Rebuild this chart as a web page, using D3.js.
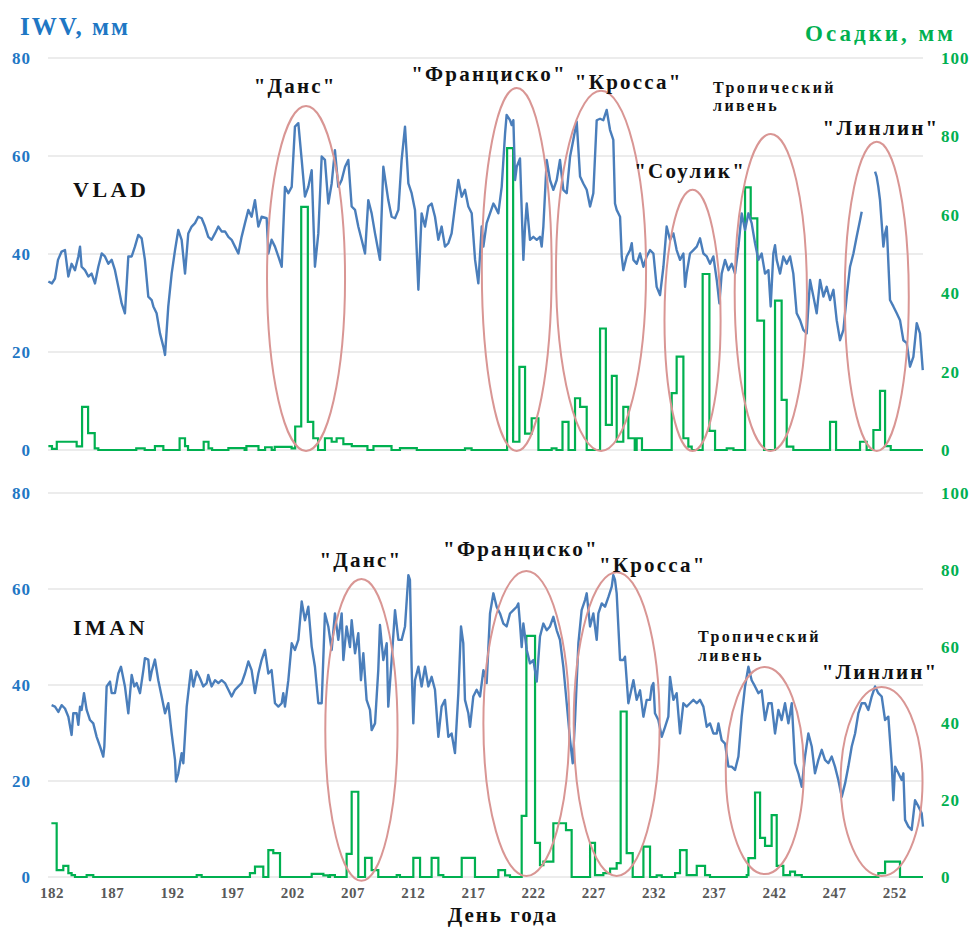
<!DOCTYPE html>
<html>
<head>
<meta charset="utf-8">
<script src="https://cdn.jsdelivr.net/npm/d3@7"></script>
<style>
body { margin: 0; background: white; }
</style>
</head>
<body>
<div id="plot"></div>
<script>
// day of year ticks (bottom axis only)
var dayTicks = [182, 187, 192, 197, 202, 207, 212, 217, 222, 227, 232, 237, 242, 247, 252];
var iwvTicks = [0, 20, 40, 60, 80];
var rainTicks = [0, 20, 40, 60, 80, 100];

// VLAD: IWV, mm  [day, value]  (null = no data)
var vladIwv = [[181.7,34.4],[182.0,34],[182.25,35],[182.5,38.8],[182.8,40.5],[183.08,40.8],[183.36,35.4],[183.63,38],[183.91,36.7],[184.19,39.5],[184.33,41.5],[184.46,37.4],[184.74,36.7],[185.02,35.4],[185.29,36],[185.57,34],[185.85,37.4],[186.13,40.1],[186.4,39.5],[186.68,38],[186.96,38.8],[187.23,36.7],[187.51,33.3],[187.79,29.9],[188.06,27.9],[188.34,39.5],[188.62,39.5],[188.89,41.5],[189.17,43.9],[189.45,43.2],[189.72,38.8],[190.0,31.3],[190.28,30.6],[190.42,29.3],[190.69,27.9],[190.97,23.8],[191.25,21.1],[191.39,19.4],[191.66,29.3],[191.94,36],[192.22,40.8],[192.49,44.9],[192.77,42.9],[193.05,36],[193.32,44.2],[193.6,45.6],[193.88,46.3],[194.15,47.6],[194.43,47.3],[194.71,45.6],[194.98,43.5],[195.26,42.9],[195.54,44.2],[195.82,45.6],[196.09,44.6],[196.37,44.6],[196.65,43.5],[196.92,42.9],[197.2,41.5],[197.48,40.1],[197.75,43.5],[198.03,46.3],[198.31,49],[198.58,47.6],[198.86,51],[199.14,45.6],[199.41,47.6],[199.83,47.3],[199.97,40.1],[200.24,42.9],[200.52,41.5],[200.8,39.5],[201.08,37.4],[201.35,53.7],[201.63,52.4],[201.91,53.7],[202.18,66],[202.46,66.7],[202.74,59.2],[203.01,51.7],[203.29,53.7],[203.57,57.1],[203.84,37.4],[204.12,44.2],[204.4,59.9],[204.67,59.2],[204.95,50.3],[205.23,54.4],[205.5,61.2],[205.78,53.7],[206.06,55.1],[206.34,57.8],[206.61,59.2],[206.89,49.7],[207.17,49],[207.44,45.6],[207.72,42.9],[208.0,40.1],[208.27,51],[208.55,48.3],[208.83,44.2],[209.24,38.8],[209.52,57.8],[209.93,51],[210.21,47.6],[210.49,47.3],[210.77,49],[211.04,59.2],[211.32,66],[211.6,54.4],[211.87,52.4],[212.15,49],[212.43,32.7],[212.7,48.3],[212.98,45.6],[213.26,49.7],[213.53,50.3],[213.81,47.6],[214.09,42.9],[214.36,45.6],[214.64,41.5],[214.92,42.2],[215.19,44.2],[215.47,49.7],[215.75,55.1],[216.03,51.7],[216.3,53.1],[216.58,49.7],[216.86,48.3],[217.14,38.8],[217.41,34],[217.69,45.6],[217.83,41.5],[218.1,46.3],[218.38,48.3],[218.66,50.3],[218.8,49.7],[219.07,48.3],[219.35,53.7],[219.63,64.6],[219.76,68.4],[220.04,67.3],[220.18,66.3],[220.32,67.3],[220.46,55.1],[220.6,57.8],[220.87,59.5],[221.15,38.8],[221.29,45.6],[221.43,50.3],[221.7,42.9],[221.98,43.5],[222.26,42.9],[222.53,43.5],[222.67,41.5],[222.81,45.6],[223.09,59.2],[223.36,55.1],[223.64,53.1],[223.92,55.1],[224.19,59.2],[224.47,53.1],[224.75,52.4],[225.03,59.9],[225.3,63.3],[225.58,67],[225.86,55.8],[226.13,54.4],[226.41,53.1],[226.69,49.7],[226.96,52.4],[227.24,67.3],[227.52,67.6],[227.79,67.3],[228.07,69.4],[228.35,65.3],[228.62,63.3],[228.76,50.3],[228.9,49],[229.18,47.6],[229.32,39.5],[229.45,36.7],[229.73,39.5],[230.01,40.8],[230.15,42.2],[230.29,38.8],[230.56,38],[230.84,40.1],[231.12,37.4],[231.39,39.5],[231.67,40.8],[231.95,40.1],[232.22,33.3],[232.5,31.6],[232.78,37.4],[233.05,45.6],[233.33,42.9],[233.61,44.2],[233.88,40.8],[234.16,38.8],[234.44,40.1],[234.58,33.3],[234.71,36],[234.99,40.1],[235.27,40.8],[235.55,41.5],[235.82,43.2],[236.1,40.1],[236.38,39.5],[236.65,38],[236.93,39.5],[237.21,34.7],[237.43,29.9],[237.62,36],[237.9,38.8],[238.18,36.7],[238.45,38],[238.73,36],[239.01,41.5],[239.28,48.3],[239.56,44.9],[239.84,48.3],[240.11,46.3],[240.39,42.2],[240.67,38.8],[240.94,40.1],[241.22,36],[241.5,36.7],[241.69,29.3],[241.91,40.1],[242.05,41.8],[242.19,38.8],[242.47,36],[242.74,39.5],[243.02,38],[243.3,39.5],[243.57,36],[243.85,27.9],[244.13,26.5],[244.4,24.5],[244.68,23.8],[244.96,34.7],[245.24,31.3],[245.51,27.9],[245.79,34.7],[246.07,31.3],[246.34,33.3],[246.62,30.6],[246.9,32.7],[247.17,26.5],[247.45,22.4],[247.73,24.5],[248.0,31.3],[248.28,37.4],[248.56,40.1],[248.83,43.5],[249.11,46.9],[249.25,48.6],[249.8,null],[250.36,56.8],[250.49,55.8],[250.63,53.7],[250.77,51],[251.05,41.5],[251.19,44.2],[251.33,45.6],[251.6,30.6],[251.88,29.3],[252.16,27.9],[252.43,26.5],[252.71,22.4],[252.99,21.8],[253.26,17],[253.54,19],[253.82,25.9],[254.09,23.8],[254.32,16.3]];

// VLAD: precipitation, mm  [day the step starts, value]
var vladRain = [[181.7,1.0],[182.0,0.3],[182.4,2.1],[184.05,0.9],[184.5,11],[185.0,4.3],[185.55,0.4],[185.85,0],[189.0,0.4],[189.7,0],[190.55,1.0],[191.25,0],[192.6,3.0],[193.05,1.0],[193.3,0],[194.6,2.1],[195.0,0.4],[195.3,0],[196.65,0.5],[198.0,0],[198.15,1.0],[199.15,0],[199.7,0.7],[200.25,0],[200.5,0.8],[201.9,0.4],[202.2,6.0],[202.7,62],[203.25,7.2],[203.7,3.0],[204.1,0],[204.67,3.0],[205.23,2.1],[205.64,3.0],[206.2,1.5],[206.9,1.0],[208.2,0],[208.7,1.0],[210.2,0],[210.9,0.5],[212.3,0],[216.3,0.4],[216.85,0],[219.8,77],[220.3,2.1],[220.82,21.2],[221.29,4.2],[221.84,8.1],[222.4,0],[223.5,0.4],[223.9,0],[224.4,7.2],[224.9,0],[225.44,13.2],[225.86,11],[226.41,0],[227.52,31],[228.0,6.4],[228.5,18.9],[228.9,2.1],[229.45,11],[229.87,3],[230.4,0],[230.56,3.0],[231.0,0],[233.47,14.5],[233.88,23.8],[234.44,3],[234.85,0.85],[235.13,0],[236.04,44.9],[236.6,4.9],[237.07,0],[238.04,0.4],[238.6,0],[239.56,67],[240.03,59.1],[240.58,33],[241.14,0],[242.05,38.1],[242.6,12.8],[243.02,0.85],[243.57,0],[246.62,7.2],[247.12,0],[249.11,2.1],[249.66,0],[250.22,5.1],[250.77,15.1],[251.19,1.0],[251.66,0],[254.34,0]];

// IMAN: IWV, mm
var imanIwv = [[181.97,35.8],[182.25,35.5],[182.53,34.4],[182.8,35.8],[183.08,35.1],[183.36,33.4],[183.63,29.6],[183.77,34.1],[184.05,34.1],[184.19,31.7],[184.33,35.5],[184.46,34.8],[184.66,38.3],[184.88,34.8],[185.16,32.7],[185.43,32],[185.71,29.2],[185.99,27.2],[186.26,25.1],[186.35,27.2],[186.54,39.7],[186.82,40.7],[186.96,38.3],[187.23,38.3],[187.51,42.4],[187.73,43.8],[188.06,39.7],[188.34,34.1],[188.62,42.1],[188.84,39.7],[189.03,40.4],[189.31,38.3],[189.59,43.1],[189.72,45.6],[190.0,45.3],[190.14,41],[190.28,42.8],[190.55,45.3],[190.83,41],[191.11,37.6],[191.39,34.1],[191.66,36.2],[191.94,29.9],[192.22,24.4],[192.3,19.9],[192.49,21.6],[192.77,25.8],[192.91,23.7],[193.19,35.5],[193.54,43.1],[193.74,39.7],[194.02,42.8],[194.29,41.4],[194.57,39.7],[194.85,40.4],[194.98,42.1],[195.26,39.7],[195.54,41],[195.82,40.4],[196.09,41],[196.37,40.4],[196.65,39],[196.92,37.6],[197.2,39],[197.48,39.7],[197.75,40.4],[198.03,42.4],[198.31,44.9],[198.58,43.1],[198.86,38.3],[199.14,42.4],[199.41,45.2],[199.69,47.3],[199.97,42.4],[200.24,43.1],[200.52,36.2],[200.8,35.5],[201.08,36.2],[201.21,38.3],[201.35,35.5],[201.63,41],[201.91,48.7],[202.18,47.3],[202.46,49.4],[202.74,57.4],[203.01,53.5],[203.29,56.3],[203.57,48],[203.84,43.8],[204.12,36.2],[204.4,36.2],[204.67,54.9],[204.95,52.2],[205.23,47.3],[205.5,54.9],[205.78,49.4],[206.06,54.9],[206.2,45.2],[206.47,52.2],[206.75,47.9],[206.89,53.5],[207.17,46.6],[207.44,50.8],[207.66,41],[207.86,46.6],[208.13,36.9],[208.41,34.8],[208.55,30.6],[208.83,32],[209.1,43.1],[209.24,52.5],[209.52,45.2],[209.8,48.7],[209.93,35.5],[210.21,45.2],[210.49,55.6],[210.77,49.4],[211.04,49.4],[211.32,52.2],[211.6,62.9],[211.73,61.9],[211.87,43.8],[212.01,32],[212.15,41],[212.43,43.8],[212.7,39.7],[212.98,43.8],[213.26,39.7],[213.53,41.7],[213.81,39],[214.09,29.2],[214.36,35.5],[214.64,36.9],[214.92,29.2],[215.19,29.9],[215.47,25.8],[215.75,38.3],[215.97,52.2],[216.16,48.7],[216.3,36.9],[216.58,34.1],[216.72,31.3],[216.99,37.6],[217.27,39],[217.55,37.6],[217.83,43.1],[218.1,40.4],[218.38,54.9],[218.66,59.1],[218.93,56.3],[219.21,54.9],[219.49,52.8],[219.76,52.2],[220.04,54.9],[220.32,55.6],[220.6,56.3],[220.73,57],[220.87,52.8],[221.01,47.9],[221.15,52.8],[221.43,47.3],[221.7,44.5],[221.98,45.2],[222.26,40.7],[222.53,50.1],[222.81,52.8],[223.09,51.4],[223.36,52.2],[223.64,54.2],[223.92,51.4],[224.19,49.4],[224.47,43.8],[224.75,36.2],[225.03,28.5],[225.25,23.7],[225.44,32.7],[225.72,48.7],[225.99,55.6],[226.27,57.7],[226.41,59.1],[226.69,52.2],[226.96,54.9],[227.24,49.4],[227.38,54.9],[227.66,57],[227.93,56.3],[228.21,58.3],[228.49,60.5],[228.62,62.9],[228.76,61.9],[228.9,59.1],[229.18,45.2],[229.45,45.2],[229.59,45.9],[229.87,36.2],[230.29,41],[230.56,36.9],[230.84,38.9],[231.12,33.4],[231.39,36.9],[231.67,36.9],[231.81,39.7],[231.95,40.4],[232.08,34.1],[232.36,32.7],[232.64,29.2],[232.92,31.3],[233.19,33.4],[233.33,41.7],[233.61,36.9],[233.88,38.3],[234.16,29.9],[234.44,36.2],[234.71,35.5],[234.99,36.2],[235.27,36.9],[235.55,36.2],[235.82,36.9],[236.1,35.5],[236.38,31.3],[236.65,32],[236.93,29.9],[237.21,29.9],[237.35,32],[237.62,28.5],[237.9,27.8],[238.18,23],[238.45,23],[238.73,22.3],[239.01,25.1],[239.28,33.4],[239.56,39.7],[239.84,43.8],[240.11,41],[240.39,39.7],[240.67,38.3],[240.94,38.9],[241.22,32.7],[241.5,36.2],[241.77,36.2],[242.05,29.9],[242.33,34.8],[242.6,32.7],[242.88,36.2],[243.16,32],[243.44,36.2],[243.71,23.7],[243.99,21.6],[244.27,18.8],[244.54,25.1],[244.82,29.9],[245.1,27.2],[245.37,21.6],[245.65,24.4],[245.93,26.5],[246.2,24.4],[246.48,23.7],[246.76,25.1],[247.03,23],[247.31,20.2],[247.59,16.7],[247.87,19.5],[248.14,23],[248.42,27.2],[248.7,29.9],[248.97,34.1],[249.25,36.2],[249.53,36.2],[249.8,34.8],[250.08,37.6],[250.36,39.7],[250.63,38.3],[250.91,37.6],[251.19,32.7],[251.46,33.4],[251.74,23.7],[251.88,16],[252.02,23],[252.3,21.6],[252.57,20.2],[252.71,21.6],[252.85,11.9],[253.13,10.5],[253.4,9.8],[253.68,16],[253.96,14.7],[254.23,13.3],[254.34,10.5]];

// IMAN: precipitation, mm
var imanRain = [[181.95,14],[182.39,1.8],[182.94,2.9],[183.36,1.0],[183.63,0.5],[183.91,0],[184.88,0.5],[185.43,0],[194.02,0.5],[194.43,0],[198.44,1.0],[198.86,2.7],[199.55,0],[199.97,7],[200.38,6.2],[200.94,0],[203.57,0.8],[204.54,0.4],[204.95,0],[205.09,0.5],[205.5,0],[206.47,6],[206.89,22.2],[207.44,0],[208.0,5],[208.55,1.8],[209.1,0],[210.63,0.5],[210.9,0],[212.01,5],[212.57,0],[213.53,5],[214.09,0.5],[214.5,0],[216.03,5],[217.13,0],[219.07,1.8],[219.63,0.4],[220.04,0],[221.01,15.9],[221.4,62.8],[222.12,8.9],[222.53,3.1],[222.81,4.0],[223.64,14],[224.69,12.2],[225.16,0],[226.69,8.9],[227.1,0.5],[227.79,1.0],[228.35,2.2],[228.9,3.6],[229.23,43.1],[229.73,6.2],[230.23,0],[231.12,7.9],[231.67,0],[232.22,0.4],[232.64,0],[233.75,1.0],[234.16,7.0],[234.71,0.5],[235.55,2.9],[236.24,0.5],[236.65,0],[239.7,0.5],[239.84,4.9],[240.39,22],[240.81,10.2],[241.22,8.1],[241.77,16.1],[242.19,2.9],[242.74,0.5],[243.3,1.4],[243.71,0.5],[244.27,0],[250.63,1.0],[251.19,4.0],[252.43,0],[254.34,0]];

// typhoon ovals: centre day, half width (days), top and bottom (IWV units)
var vladOvals = [[203.1,3.24,70.2,-0.2],[220.6,2.9,73.9,-0.2],[227.6,3.74,73.3,-0.2],[235.2,2.33,53.1,-0.2],[241.7,3.0,64.5,-0.2],[250.5,2.66,62.9,-0.2]];
var imanOvals = [[207.7,3.0,62.1,-0.8],[221.4,3.57,63.75,0.2],[228.9,3.57,63.5,0.2],[241.2,3.24,43.75,0.6],[250.9,3.4,39.6,0.2]];

// annotations: text, day, IWV (baseline), anchor, size
var vladNotes = [
    ['"Данс"', 202.2, 72.9, 'middle', 21],
    ['"Франциско"', 218.3, 75.3, 'middle', 21],
    ['"Кросса"', 229.9, 73.7, 'middle', 21],
    ['Тропический', 236.9, 72.9, 'start', 16],
    ['ливень', 236.9, 69.2, 'start', 16],
    ['"Соулик"', 235.0, 55.5, 'middle', 21],
    ['"Линлин"', 250.85, 64.3, 'middle', 21]];
var imanNotes = [
    ['"Данс"', 207.66, 64.6, 'middle', 21],
    ['"Франциско"', 220.95, 66.9, 'middle', 21],
    ['"Кросса"', 231.9, 63.5, 'middle', 21],
    ['Тропический', 235.65, 49, 'start', 16],
    ['ливень', 235.65, 45, 'start', 16],
    ['"Линлин"', 250.77, 41.25, 'middle', 21]];

var width = 973, height = 928;
var blue = '#4a7ebb', green = '#00b050', oval = '#d99694';
var serif = "'Liberation Serif', 'DejaVu Serif', 'Times New Roman', serif";

var svg = d3.select('#plot').append('svg')
    .attr('width', width)
    .attr('height', height)
    .attr('font-family', serif)
    .attr('font-weight', 'bold');

var x = d3.scaleLinear().domain([181.67, 254.34]).range([48, 923]);

function drawPanel(name, top, bottom, iwv, rain, ovals, notes, showDays) {
    var y = d3.scaleLinear().domain([0, 80]).range([bottom, top]);
    var y2 = d3.scaleLinear().domain([0, 100]).range([bottom, top]);
    var g = svg.append('g');

    // grid
    g.selectAll('.grid')
        .data(iwvTicks)
        .enter()
        .append('line')
        .attr('x1', x.range()[0]).attr('x2', x.range()[1])
        .attr('y1', function(d) { return y(d); })
        .attr('y2', function(d) { return y(d); })
        .attr('stroke', '#d9d9d9')
        .attr('stroke-width', 1);

    // left axis labels
    g.selectAll('.yl')
        .data(iwvTicks)
        .enter()
        .append('text')
        .attr('x', 31)
        .attr('y', function(d) { return y(d); })
        .attr('dy', '0.35em')
        .attr('text-anchor', 'end')
        .attr('font-size', 17)
        .attr('letter-spacing', 1)
        .attr('fill', '#1f77c4')
        .text(function(d) { return d; });

    // right axis labels
    g.selectAll('.yr')
        .data(rainTicks)
        .enter()
        .append('text')
        .attr('x', 941)
        .attr('y', function(d) { return y2(d); })
        .attr('dy', '0.35em')
        .attr('font-size', 17)
        .attr('letter-spacing', 1)
        .attr('fill', green)
        .text(function(d) { return d; });

    // precipitation (steps)
    g.append('path')
        .datum(rain)
        .attr('fill', 'none')
        .attr('stroke', green)
        .attr('stroke-width', 2.2)
        .attr('d', d3.line()
            .curve(d3.curveStepAfter)
            .x(function(d) { return x(d[0]); })
            .y(function(d) { return y2(d[1]); }));

    // IWV
    g.append('path')
        .datum(iwv)
        .attr('fill', 'none')
        .attr('stroke', blue)
        .attr('stroke-width', 2.4)
        .attr('stroke-linejoin', 'round')
        .attr('d', d3.line()
            .defined(function(d) { return d[1] != null; })
            .x(function(d) { return x(d[0]); })
            .y(function(d) { return y(d[1]); }));

    // ovals
    g.selectAll('.oval')
        .data(ovals)
        .enter()
        .append('ellipse')
        .attr('cx', function(d) { return x(d[0]); })
        .attr('cy', function(d) { return (y(d[2]) + y(d[3])) / 2; })
        .attr('rx', function(d) { return x(d[0] + d[1]) - x(d[0]); })
        .attr('ry', function(d) { return (y(d[3]) - y(d[2])) / 2; })
        .attr('fill', 'none')
        .attr('stroke', oval)
        .attr('stroke-width', 2);

    // storm names
    g.selectAll('.note')
        .data(notes)
        .enter()
        .append('text')
        .attr('x', function(d) { return x(d[1]); })
        .attr('y', function(d) { return y(d[2]); })
        .attr('text-anchor', function(d) { return d[3]; })
        .attr('font-size', function(d) { return d[4]; })
        .attr('letter-spacing', function(d) { return d[4] > 18 ? 2.2 : 2.4; })
        .attr('fill', '#111')
        .text(function(d) { return d[0]; });

    // station name
    g.append('text')
        .attr('x', 73)
        .attr('y', y(name[1]))
        .attr('font-size', 22)
        .attr('letter-spacing', 3.5)
        .attr('fill', '#111')
        .text(name[0]);

    if(!showDays)
        return;
    g.selectAll('.xl')
        .data(dayTicks)
        .enter()
        .append('text')
        .attr('x', function(d) { return x(d); })
        .attr('y', bottom + 21)
        .attr('text-anchor', 'middle')
        .attr('font-size', 15)
        .attr('letter-spacing', 0.5)
        .attr('fill', '#595959')
        .text(function(d) { return d; });
}

drawPanel(['VLAD', 51.6], 58, 450, vladIwv, vladRain, vladOvals, vladNotes, false);
drawPanel(['IMAN', 50.4], 493, 877, imanIwv, imanRain, imanOvals, imanNotes, true);

// axis titles
svg.append('text')
    .attr('x', 20).attr('y', 35)
    .attr('font-size', 25)
    .attr('letter-spacing', 2)
    .attr('fill', '#1f77c4')
    .text('IWV, мм');
svg.append('text')
    .attr('x', 805).attr('y', 41)
    .attr('font-size', 23)
    .attr('letter-spacing', 3)
    .attr('fill', green)
    .text('Осадки, мм');
svg.append('text')
    .attr('x', 503).attr('y', 922)
    .attr('text-anchor', 'middle')
    .attr('font-size', 21)
    .attr('letter-spacing', 2)
    .attr('fill', '#111')
    .text('День года');
</script>
</body>
</html>
